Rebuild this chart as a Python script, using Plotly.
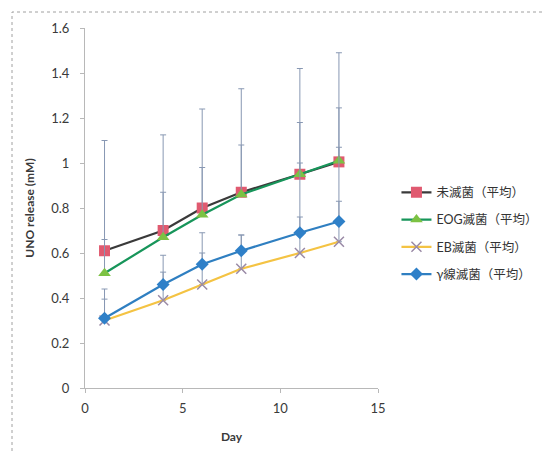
import plotly.graph_objects as go

days = [1, 4, 6, 8, 11, 13]
names = ["未滅菌（平均）", "EOG滅菌（平均）", "EB滅菌（平均）", "γ線滅菌（平均）"]
unsterile = [0.61, 0.70, 0.80, 0.87, 0.95, 1.005]
eog = [0.51, 0.67, 0.77, 0.86, 0.95, 1.01]
eb = [0.30, 0.39, 0.46, 0.53, 0.60, 0.65]
gamma = [0.31, 0.46, 0.55, 0.61, 0.69, 0.74]
err_unsterile = [0.49, 0.425, 0.44, 0.46, 0.47, 0.485]
err_eog = [0.15, 0.20, 0.21, 0.22, 0.23, 0.235]
err_eb = [0.095, 0.125, 0.14, 0.15, 0.16, 0.18]
err_gamma = [0.13, 0.13, 0.14, 0.07, 0.31, 0.33]

FONT = "Lato, 'Noto Sans CJK JP', sans-serif"
ERRC = "#8898b3"

series = [
    (names[0], unsterile, err_unsterile, "#3a3a3a", dict(symbol="square", size=11, color="#e05a70")),
    (names[1], eog, err_eog, "#17955a", dict(symbol="triangle-up", size=11, color="#7cc243")),
    (names[2], eb, err_eb, "#f4c343", dict(symbol="x-thin", size=10, color="#9a8aa6", line=dict(width=1.5, color="#9a8aa6"))),
    (names[3], gamma, err_gamma, "#2f7fc1", dict(symbol="diamond", size=10, color="#2f80c8")),
]

fig = go.Figure()
for i, (nm, ys, er, lc, mk) in enumerate(series):
    fig.add_trace(go.Scatter(
        x=days, y=ys, name=nm, mode="lines+markers",
        line=dict(color=lc, width=2.2),
        marker=mk,
        legendgroup=f"g{i}",
        error_y=dict(type="data", array=er, symmetric=False, arrayminus=[0]*len(er),
                     color=ERRC, thickness=1, width=3),
    ))

fig.add_shape(type="rect", xref="paper", yref="paper",
              x0=(12-85)/293, x1=(549-85)/293, y0=(388-470)/360, y1=(388-12)/360,
              line=dict(color="#a0a0a0", width=1, dash="dot"), layer="below")

fig.update_layout(
    width=553, height=452,
    margin=dict(l=77, r=183, t=20, b=72),
    paper_bgcolor="white", plot_bgcolor="white",
    font=dict(family=FONT, size=12, color="#3a3a3a"),
    legend=dict(x=1.063, y=0.43, xanchor="left", yanchor="middle",
                font=dict(size=12.5, color="#333333"), tracegroupgap=8,
                bgcolor="rgba(0,0,0,0)"),
    xaxis=dict(range=[0, 15], dtick=5, tick0=0, showgrid=False, zeroline=False,
               showline=True, linecolor="#b8b8b8", linewidth=1,
               ticks="outside", ticklen=4, tickcolor="#b8b8b8",
               tickfont=dict(size=13), ticklabelstandoff=4,
               title=dict(text="<b>Day</b>", font=dict(size=12), standoff=18)),
    yaxis=dict(range=[0, 1.6], dtick=0.2, tick0=0, showgrid=False, zeroline=False,
               showline=True, linecolor="#b8b8b8", linewidth=1,
               ticks="outside", ticklen=4, tickcolor="#b8b8b8",
               tickfont=dict(size=13), ticklabelstandoff=8,
               title=dict(text="<b>UNO release (mM)</b>", font=dict(size=12), standoff=14)),
)

fig.write_html("out.html")
